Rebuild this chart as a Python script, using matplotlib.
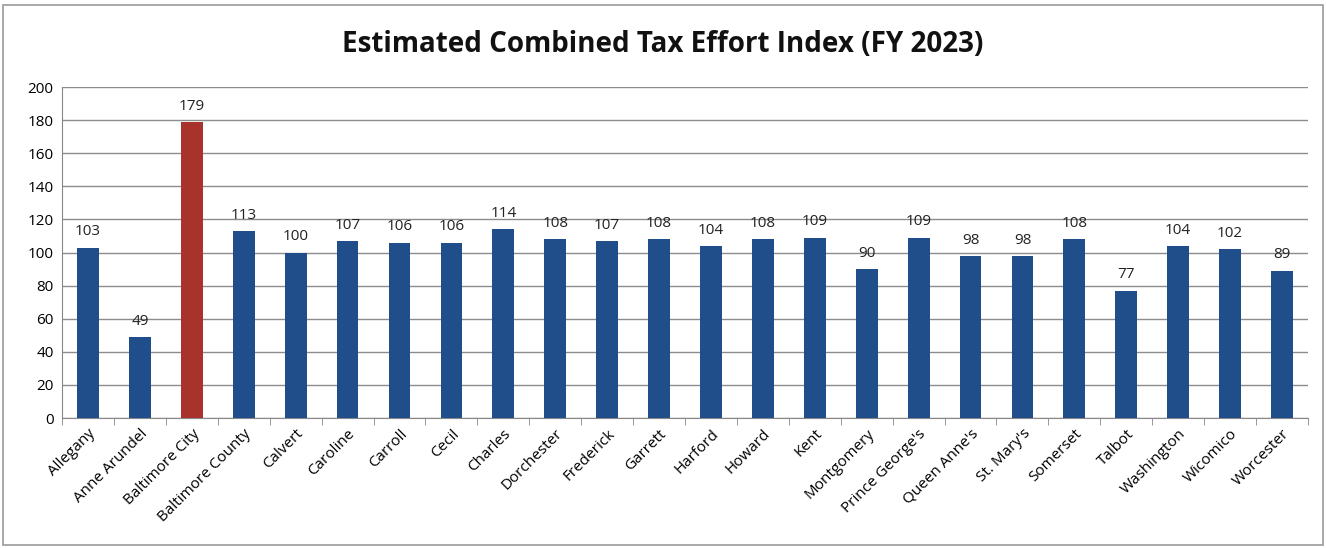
import matplotlib.pyplot as plt
from matplotlib.patches import Rectangle

counties = ['Allegany', 'Anne Arundel', 'Baltimore City', 'Baltimore County', 'Calvert',
            'Caroline', 'Carroll', 'Cecil', 'Charles', 'Dorchester', 'Frederick', 'Garrett',
            'Harford', 'Howard', 'Kent', 'Montgomery', "Prince George's", "Queen Anne's",
            "St. Mary's", 'Somerset', 'Talbot', 'Washington', 'Wicomico', 'Worcester']
effortIndex = [103, 49, 179, 113, 100, 107, 106, 106, 114, 108, 107, 108,
               104, 108, 109, 90, 109, 98, 98, 108, 77, 104, 102, 89]
highlight = 'Baltimore City'

blue = '#1f4e8a'
red = '#a8322c'

plt.rcParams['font.family'] = ['Open Sans', 'DejaVu Sans']

fig = plt.figure(figsize=(13.26, 5.48), dpi=100)
ax = fig.add_axes([0.0468, 0.2372, 0.9396, 0.604])

colors = [red if c == highlight else blue for c in counties]
x = range(len(counties))
bars = ax.bar(x, effortIndex, width=0.42, color=colors, zorder=3)

for bar, v in zip(bars, effortIndex):
    ax.text(bar.get_x() + bar.get_width() / 2, v + 5, str(v),
            ha='center', va='bottom', fontsize=11, color='#222222')

ax.set_xlim(-0.5, len(counties) - 0.5)
ax.set_ylim(0, 200)
ax.set_yticks(range(0, 201, 20))
ax.tick_params(axis='y', length=0, labelsize=11, pad=6)
ax.set_xticks([i - 0.5 for i in range(len(counties) + 1)], minor=True)
ax.set_xticks(list(x))
ax.set_xticklabels(counties, rotation=45, ha='right', rotation_mode='anchor', fontsize=11)
ax.tick_params(axis='x', which='major', length=0, pad=6)
ax.tick_params(axis='x', which='minor', length=5, color='#888888')
ax.grid(axis='y', color='#8c8c8c', linewidth=1.0, zorder=0)

for side in ['top', 'right']:
    ax.spines[side].set_visible(False)
ax.spines['left'].set_color('#888888')
ax.spines['bottom'].set_color('#888888')

fig.text(0.5, 0.918, 'Estimated Combined Tax Effort Index (FY 2023)',
         ha='center', va='center', fontsize=20, fontweight='bold', color='#111111')

# outer chart frame
fig.patches.append(Rectangle((0.002, 0.005), 0.996, 0.985, transform=fig.transFigure,
                             fill=False, edgecolor='#9a9a9a', linewidth=1.2))

fig.savefig('out.png', dpi=100)
